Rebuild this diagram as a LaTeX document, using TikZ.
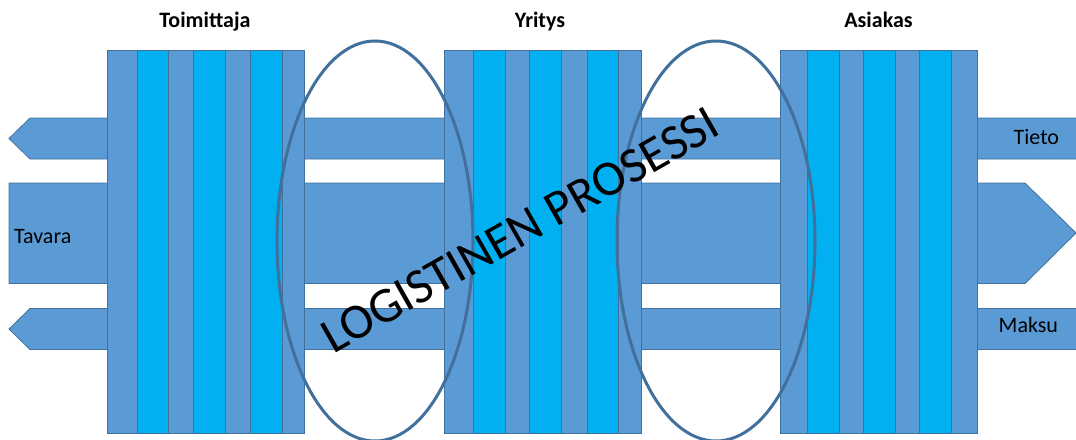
\documentclass[tikz,border=0pt]{standalone}
\usepackage{fontspec}
\setmainfont{Carlito}
\definecolor{bandblue}{HTML}{5B9BD5}
\definecolor{cyanstripe}{HTML}{00B0F0}
\definecolor{edgeblue}{HTML}{41719C}
\definecolor{ringblue}{HTML}{41709C}
\tikzset{
  band/.style={fill=bandblue, draw=edgeblue, line width=0.8pt},
  stripeA/.style={fill=bandblue, draw=edgeblue, line width=0.8pt},
  stripeB/.style={fill=cyanstripe, draw=edgeblue, line width=0.8pt},
  ring/.style={draw=ringblue, line width=3pt},
  head/.style={font=\fontsize{22}{26}\selectfont\bfseries, inner sep=0pt, anchor=base},
  lbl/.style={font=\fontsize{22}{26}\selectfont, inner sep=0pt, anchor=base west},
  big/.style={font=\fontsize{50}{56}\selectfont, inner sep=0pt, anchor=base, rotate=29.5}
}
\begin{document}
\begin{tikzpicture}[x=1pt,y=-1pt]
\useasboundingbox (0,0) rectangle (1076,439);
\clip (0,0) rectangle (1076,439);
% arrows (behind blocks)
\draw[band] (9,138.5) -- (30,118) -- (1077,118) -- (1077,159) -- (30,159) -- cycle;
\draw[band] (9,183) -- (1025,183) -- (1076,233) -- (1025,283.5) -- (9,283.5) -- cycle;
\draw[band] (9,329) -- (30,308.5) -- (1077,308.5) -- (1077,349.5) -- (30,349.5) -- cycle;
% block 1
\draw[stripeA] (107,50) rectangle (137.3,433);
\draw[stripeB] (137.3,50) rectangle (168.3,433);
\draw[stripeA] (168.3,50) rectangle (193.3,433);
\draw[stripeB] (193.3,50) rectangle (225.7,433);
\draw[stripeA] (225.7,50) rectangle (250.7,433);
\draw[stripeB] (250.7,50) rectangle (282.7,433);
\draw[stripeA] (282.7,50) rectangle (304,433);
% block 2
\draw[stripeA] (444,50) rectangle (473.7,433);
\draw[stripeB] (473.7,50) rectangle (505.7,433);
\draw[stripeA] (505.7,50) rectangle (529.3,433);
\draw[stripeB] (529.3,50) rectangle (561.3,433);
\draw[stripeA] (561.3,50) rectangle (587.7,433);
\draw[stripeB] (587.7,50) rectangle (618.7,433);
\draw[stripeA] (618.7,50) rectangle (641,433);
% block 3
\draw[stripeA] (780.7,50) rectangle (807.3,433);
\draw[stripeB] (807.3,50) rectangle (839.7,433);
\draw[stripeA] (839.7,50) rectangle (863.7,433);
\draw[stripeB] (863.7,50) rectangle (895.7,433);
\draw[stripeA] (895.7,50) rectangle (919.7,433);
\draw[stripeB] (919.7,50) rectangle (951.7,433);
\draw[stripeA] (951.7,50) rectangle (977.7,433);
% ellipses
\draw[ring] (375,241) ellipse [x radius=98, y radius=200];
\draw[ring] (716,241) ellipse [x radius=99, y radius=200];
% texts
\node[head] (toim) at (205,27.5) {Toimittaja};
\node[head] (yrit) at (540,27.5) {Yritys};
\node[head] (asia) at (878.5,27.5) {Asiakas};
\node[lbl] (tavara) at (14,243) {Tavara};
\node[lbl] (tieto) at (1013.5,144) {Tieto};
\node[lbl] (maksu) at (998.5,332) {Maksu};
\node[big] (logi) at (528,244) {LOGISTINEN PROSESSI};
\end{tikzpicture}
\end{document}
